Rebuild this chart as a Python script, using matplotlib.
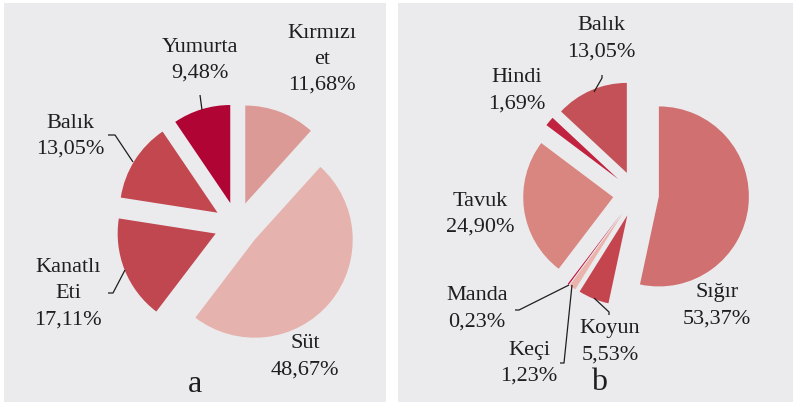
import matplotlib
matplotlib.use("Agg")
from matplotlib import pyplot as plt

# panel a
a_labels = ["Kırmızı\net", "Süt", "Kanatlı\nEti", "Balık", "Yumurta"]
a_values = [11.68, 48.67, 17.11, 13.05, 9.48]
a_colors = ["#dc9a96", "#e6b2ad", "#c04650", "#c2474f", "#b00435"]

# panel b
b_labels = ["Sığır", "Koyun", "Keçi", "Manda", "Tavuk", "Hindi", "Balık"]
b_values = [53.37, 5.53, 1.23, 0.23, 24.90, 1.69, 13.05]
b_colors = ["#d07070", "#c5454f", "#eab3ab", "#bd0c3a", "#d98580", "#c0223f", "#c55158"]

W, H = 793, 404
bg = "#ebebed"
font = dict(family="Liberation Serif", fontsize=16, color="#1e1e1e",
            ha="center", va="center", linespacing=1.5)


def pct(v):
    return ("%.2f%%" % v).replace(".", ",")


def py(y):
    # pixel row (from top) to axes y
    return H - y


def panel(x0, x1, y0, y1):
    ax = fig.add_axes([x0 / W, (H - y1) / H, (x1 - x0) / W, (y1 - y0) / H])
    return ax, (x0, x1, py(y1), py(y0))


def finish(ax, lims):
    ax.set_xlim(lims[0], lims[1])
    ax.set_ylim(lims[2], lims[3])
    ax.set_aspect("auto")
    ax.set_facecolor(bg)
    ax.set_frame_on(True)
    for s in ax.spines.values():
        s.set_visible(False)
    ax.set_xticks([])
    ax.set_yticks([])


def leader(ax, pts):
    xs = [p[0] for p in pts]
    ys = [py(p[1]) for p in pts]
    ax.plot(xs, ys, color="#1e1e1e", lw=0.9, solid_capstyle="butt")


fig = plt.figure(figsize=(W / 100, H / 100), dpi=100)

# ---- a ----  (explode is in data units = pixels here)
ax, lims = panel(4, 386, 3, 402)
ax.pie(a_values, colors=a_colors, startangle=90, counterclock=False,
       explode=[23] * len(a_values), center=(237, py(225)), radius=98,
       wedgeprops=dict(linewidth=0))
finish(ax, lims)

a_pos = [(322, 59), (305, 357), (68, 294), (70, 136), (200, 60)]
for lab, v, (x, y) in zip(a_labels, a_values, a_pos):
    ax.text(x, py(y), lab + "\n" + pct(v), **font)
leader(ax, [(200, 95), (202, 110)])
leader(ax, [(108, 135), (115, 135), (133, 162)])
leader(ax, [(108, 293), (113, 293), (125, 270)])
ax.text(195, py(384), "a", family="Liberation Serif", fontsize=23,
        ha="center", va="center", color="#1e1e1e")

# ---- b ----
ax, lims = panel(398, 793, 3, 402)
ax.pie(b_values, colors=b_colors, startangle=90, counterclock=False,
       explode=[23] * len(b_values), center=(636, py(194)), radius=90,
       wedgeprops=dict(linewidth=0))
finish(ax, lims)

b_pos = [(717, 306), (610, 342), (529, 363), (477, 309), (480, 214), (517, 91), (601, 39)]
for lab, v, (x, y) in zip(b_labels, b_values, b_pos):
    ax.text(x, py(y), lab + "\n" + pct(v), **font)
leader(ax, [(602, 75), (602, 78), (594, 92)])
leader(ax, [(515, 310), (519, 310), (569, 285)])
leader(ax, [(560, 363), (564, 363), (572, 285)])
leader(ax, [(594, 298), (609, 312), (609, 315)])
ax.text(599, py(383), "b", family="Liberation Serif", fontsize=23,
        ha="center", va="center", color="#1e1e1e")

fig.savefig("out.png", dpi=100)
